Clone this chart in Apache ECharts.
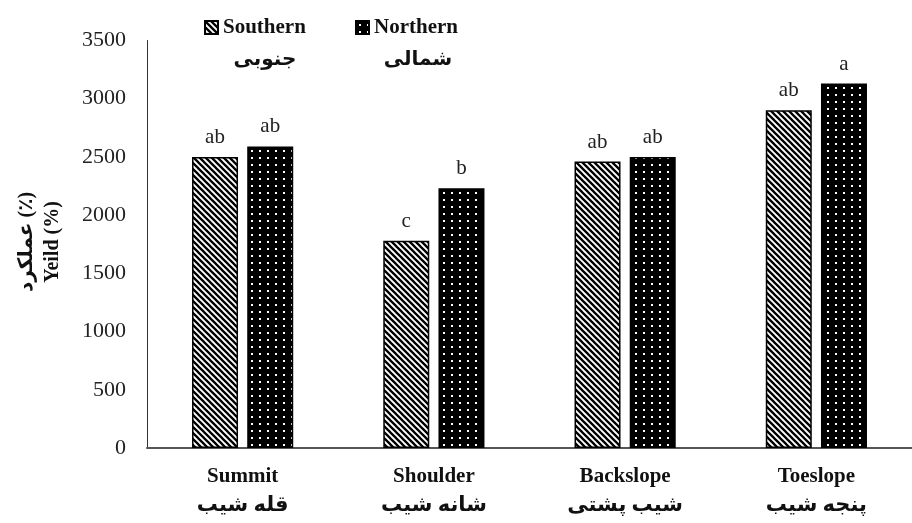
<!DOCTYPE html>
<html>
<head>
<meta charset="utf-8">
<script src="https://cdn.jsdelivr.net/npm/echarts@6/dist/echarts.min.js"></script>
<style>
html,body{margin:0;padding:0;background:#fff;}
#chart{width:912px;height:523px;}
</style>
</head>
<body>
<div id="chart"></div>
<script>
const categoriesEn = ['Summit', 'Shoulder', 'Backslope', 'Toeslope'];
const categoriesFa = ['قله شیب', 'شانه شیب', 'شیب پشتی', 'پنجه شیب'];
const southernValues = [2500, 1780, 2460, 2900];
const northernValues = [2590, 2230, 2500, 3130];
const southernLetters = ['ab', 'c', 'ab', 'ab'];
const northernLetters = ['ab', 'b', 'ab', 'a'];
const yTicks = [0, 500, 1000, 1500, 2000, 2500, 3000, 3500];
const seriesNames = ['Southern', 'Northern'];
const seriesNamesFa = ['جنوبی', 'شمالی'];
const yTitleFa = 'عملکرد (٪)';
const yTitleEn = 'Yeild (%)';

const FONT = '"Liberation Serif", "DejaVu Sans", serif';

function stripePattern() {
  const c = document.createElement('canvas');
  c.width = 6; c.height = 6;
  const g = c.getContext('2d');
  g.fillStyle = '#fff'; g.fillRect(0, 0, 6, 6);
  g.strokeStyle = '#000'; g.lineWidth = 2.3;
  g.beginPath();
  for (let k = -6; k <= 6; k += 6) { g.moveTo(k - 1, -1); g.lineTo(k + 7, 7); }
  g.stroke();
  return c;
}
function dotPattern() {
  const c = document.createElement('canvas');
  c.width = 8; c.height = 7;
  const g = c.getContext('2d');
  g.fillStyle = '#000'; g.fillRect(0, 0, 8, 7);
  g.fillStyle = '#fff'; g.fillRect(3, 3, 2, 2);
  return c;
}

const chart = echarts.init(document.getElementById('chart'));
const southFill = { image: stripePattern(), repeat: 'repeat' };
const northFill = { image: dotPattern(), repeat: 'repeat' };

const catLabels = categoriesEn.map((e, i) => e + '\n' + categoriesFa[i]);

chart.setOption({
  animation: false,
  backgroundColor: '#fff',
  grid: { left: 147, right: -11, top: 40.5, bottom: 75, containLabel: false },
  legend: [
    { data: [seriesNames[0]], left: 199, top: 12, icon: 'rect', itemWidth: 13, itemHeight: 13, itemGap: 6,
      textStyle: { fontFamily: FONT, fontWeight: 'bold', fontSize: 21, color: '#111' } },
    { data: [seriesNames[1]], left: 350, top: 12, icon: 'rect', itemWidth: 13, itemHeight: 13, itemGap: 6,
      textStyle: { fontFamily: FONT, fontWeight: 'bold', fontSize: 21, color: '#111' } }
  ],
  xAxis: {
    type: 'category',
    data: catLabels,
    axisLine: { lineStyle: { color: '#555', width: 2 } },
    axisTick: { show: false },
    axisLabel: { fontFamily: FONT, fontWeight: 'bold', fontSize: 21, color: '#111', lineHeight: 29, margin: 14, interval: 0 }
  },
  yAxis: {
    type: 'value',
    min: yTicks[0], max: yTicks[yTicks.length - 1], interval: 500,
    axisLine: { show: true, lineStyle: { color: '#333', width: 1 } },
    axisTick: { show: false },
    splitLine: { show: false },
    axisLabel: { fontFamily: FONT, fontSize: 22, color: '#222', margin: 21, formatter: v => String(v) }
  },
  series: [
    {
      name: seriesNames[0], type: 'bar', data: southernValues,
      barWidth: 46, barGap: '20%',
      itemStyle: { color: southFill, borderColor: '#000', borderWidth: 1.5 },
      label: { show: true, position: 'top', distance: 9, fontFamily: FONT, fontSize: 21, color: '#222',
        formatter: p => southernLetters[p.dataIndex] }
    },
    {
      name: seriesNames[1], type: 'bar', data: northernValues,
      barWidth: 46, barGap: '20%',
      itemStyle: { color: northFill, borderColor: '#000', borderWidth: 1.5 },
      label: { show: true, position: 'top', distance: 9, fontFamily: FONT, fontSize: 21, color: '#222',
        formatter: p => northernLetters[p.dataIndex] }
    }
  ],
  graphic: [
    { type: 'text', x: 265, y: 60, style: { text: seriesNamesFa[0], fontFamily: FONT, fontWeight: 'bold', fontSize: 20, fill: '#111', align: 'center', verticalAlign: 'middle' } },
    { type: 'text', x: 418, y: 60, style: { text: seriesNamesFa[1], fontFamily: FONT, fontWeight: 'bold', fontSize: 20, fill: '#111', align: 'center', verticalAlign: 'middle' } },
    { type: 'text', x: 40, y: 242, rotation: Math.PI / 2,
      style: { text: yTitleFa + '\n' + yTitleEn, fontFamily: FONT, fontWeight: 'bold', fontSize: 20, lineHeight: 26, fill: '#111', align: 'center', verticalAlign: 'middle' } }
  ]
});
</script>
</body>
</html>
